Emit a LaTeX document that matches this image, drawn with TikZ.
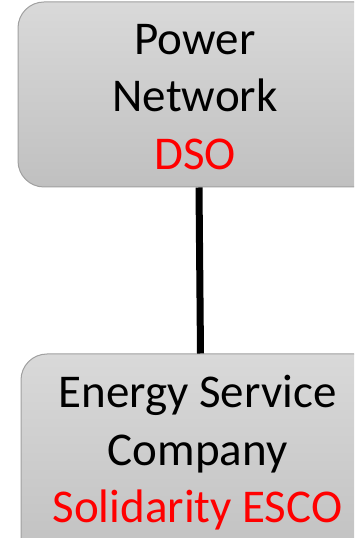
\documentclass[tikz,border=0pt]{standalone}
\usepackage{fontspec}
\setmainfont{Carlito}
\definecolor{boxtop}{RGB}{217,217,217}
\definecolor{boxbot}{RGB}{192,192,192}
\definecolor{boxline}{RGB}{160,160,160}
\definecolor{lblred}{RGB}{255,0,0}
\begin{document}
\begin{tikzpicture}[x=1pt,y=1pt,
  box/.style={draw=boxline, line width=1pt, rounded corners=26pt,
    top color=boxtop, bottom color=boxbot, inner sep=0pt},
  lbl/.style={align=center, inner sep=0pt, font=\fontsize{47}{57.5}\selectfont}]
\useasboundingbox (0,0) rectangle (354,538);
\clip (0,0) rectangle (354,538);
\node[box, minimum width=362pt, minimum height=185pt] (top) at (199,443.5) {};
\node[box, minimum width=359pt, minimum height=214pt] (bot) at (200.5,77) {};
\draw[line width=7pt] (top.south) -- (bot.north);
\node[lbl] (toptext) at (195,441) {Power\\Network\\\textcolor{lblred}{DSO}};
\node[lbl] (bottext) at (197.5,85) {Energy Service\\Company\\\textcolor{lblred}{Solidarity ESCO}};
\end{tikzpicture}
\end{document}
